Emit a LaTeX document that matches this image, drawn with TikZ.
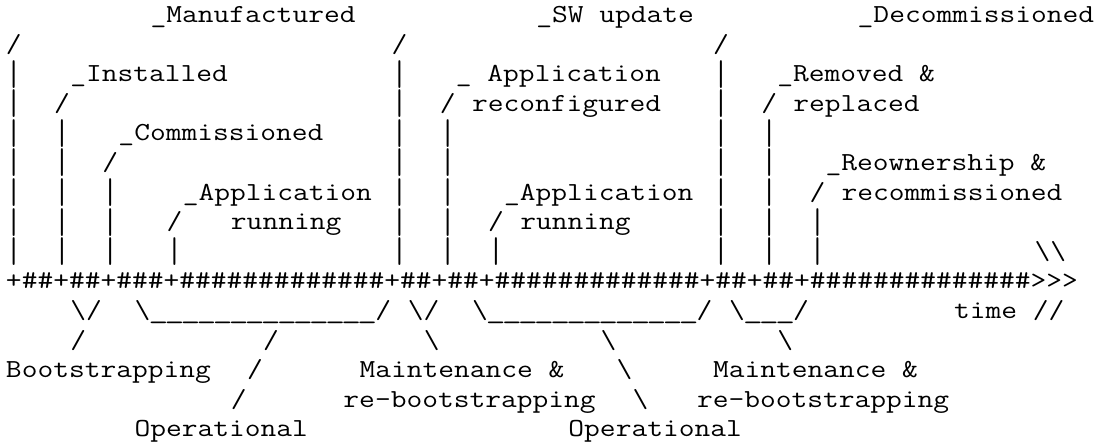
\documentclass[tikz,border=0pt]{standalone}
\usepackage{graphicx}

% monospaced text, widened to a 8.035pt character pitch
\newcommand{\mono}[1]{\scalebox{1.1773}[1]{#1}}
\newcommand{\hsh}[1]{\foreach \n in {1,...,#1}{\#}}
% underscores that join up into one rule
\newcommand{\usc}[1]{\foreach \n in {1,...,#1}{\makebox[0.525em]{\scalebox{1.25}[1]{\_}}}}
% a taller bar, so the columns nearly close up
\newcommand{\vbar}{\raisebox{-1.7pt}{\scalebox{1}[1.376]{|}}}
\newcommand{\bs}{\textbackslash}

\begin{document}
\begin{tikzpicture}[
    x=8.035pt, y=-14.8pt,
    every node/.style={anchor=base west, inner sep=0pt, outer sep=0pt,
                       font=\fontsize{13}{14}\fontseries{l}\selectfont\ttfamily},
]

% ── Canvas (one unit = one character cell) ──
\fill[white] (-0.373,-0.76) rectangle (68.2,14.206);
\useasboundingbox (-0.373,-0.76) rectangle (68.2,14.206);

% ── Events: slash, then bar down to the time line ──
\foreach \c/\r in {0/1, 3/3, 6/5, 10/7, 24/1, 27/3, 30/7, 44/1, 47/3, 50/6} {
  \node (turn-\c) at (\c,\r) {\mono{/}};
  \pgfmathtruncatemacro{\rs}{\r+1}
  \foreach \k in {\rs,...,8}
    \node (bar-\c-\k) at (\c,\k) {\mono{\vbar}};
}

% ── Event labels ──
\node (manuf)  at (9,0)  {\mono{\_Manufactured}};
\node (swupd)  at (33,0) {\mono{\_SW update}};
\node (decom)  at (53,0) {\mono{\_Decommissioned}};
\node (inst)   at (4,2)  {\mono{\_Installed}};
\node (appcfg) at (28,2) {\mono{\_{} Application}};
\node (remov)  at (48,2) {\mono{\_Removed \&}};
\node (cfg)    at (29,3) {\mono{reconfigured}};
\node (repl)   at (49,3) {\mono{replaced}};
\node (comm)   at (7,4)  {\mono{\_Commissioned}};
\node (reown)  at (51,5) {\mono{\_Reownership \&}};
\node (app-a)  at (11,6) {\mono{\_Application}};
\node (app-b)  at (31,6) {\mono{\_Application}};
\node (recom)  at (52,6) {\mono{recommissioned}};
\node (run-a)  at (14,7) {\mono{running}};
\node (run-b)  at (32,7) {\mono{running}};
\node (tip)    at (64,8) {\mono{\bs\bs}};

% ── Time line ──
\node (line) at (0,9) {\mono{+\hsh{2}+\hsh{2}+\hsh{3}+\hsh{13}+\hsh{2}+\hsh{2}+\hsh{13}+\hsh{2}+\hsh{2}+\hsh{14}>{}>{}>}};

% ── Phase brackets ──
\node (br-boot)  at (4,10)  {\mono{\bs/}};
\node (br-op-a)  at (8,10)  {\mono{\bs\usc{14}/}};
\node (br-mnt-a) at (25,10) {\mono{\bs/}};
\node (br-op-b)  at (29,10) {\mono{\bs\usc{13}/}};
\node (br-mnt-b) at (45,10) {\mono{\bs\usc{3}/}};
\node (time)     at (59,10) {\mono{time //}};

% ── Leaders down to the phase names ──
\foreach \c/\r in {4/11, 16/11, 15/12, 14/13}
  \node (ld-\c-\r) at (\c,\r) {\mono{/}};
\foreach \c/\r in {26/11, 37/11, 48/11, 38/12, 39/13}
  \node (ld-\c-\r) at (\c,\r) {\mono{\bs}};

% ── Phase names ──
\node (boot)     at (0,12)  {\mono{Bootstrapping}};
\node (mnt-a)    at (22,12) {\mono{Maintenance \&}};
\node (mnt-b)    at (44,12) {\mono{Maintenance \&}};
\node (reboot-a) at (21,13) {\mono{re-bootstrapping}};
\node (reboot-b) at (43,13) {\mono{re-bootstrapping}};
\node (op-a)     at (8,14)  {\mono{Operational}};
\node (op-b)     at (35,14) {\mono{Operational}};

\end{tikzpicture}
\end{document}
